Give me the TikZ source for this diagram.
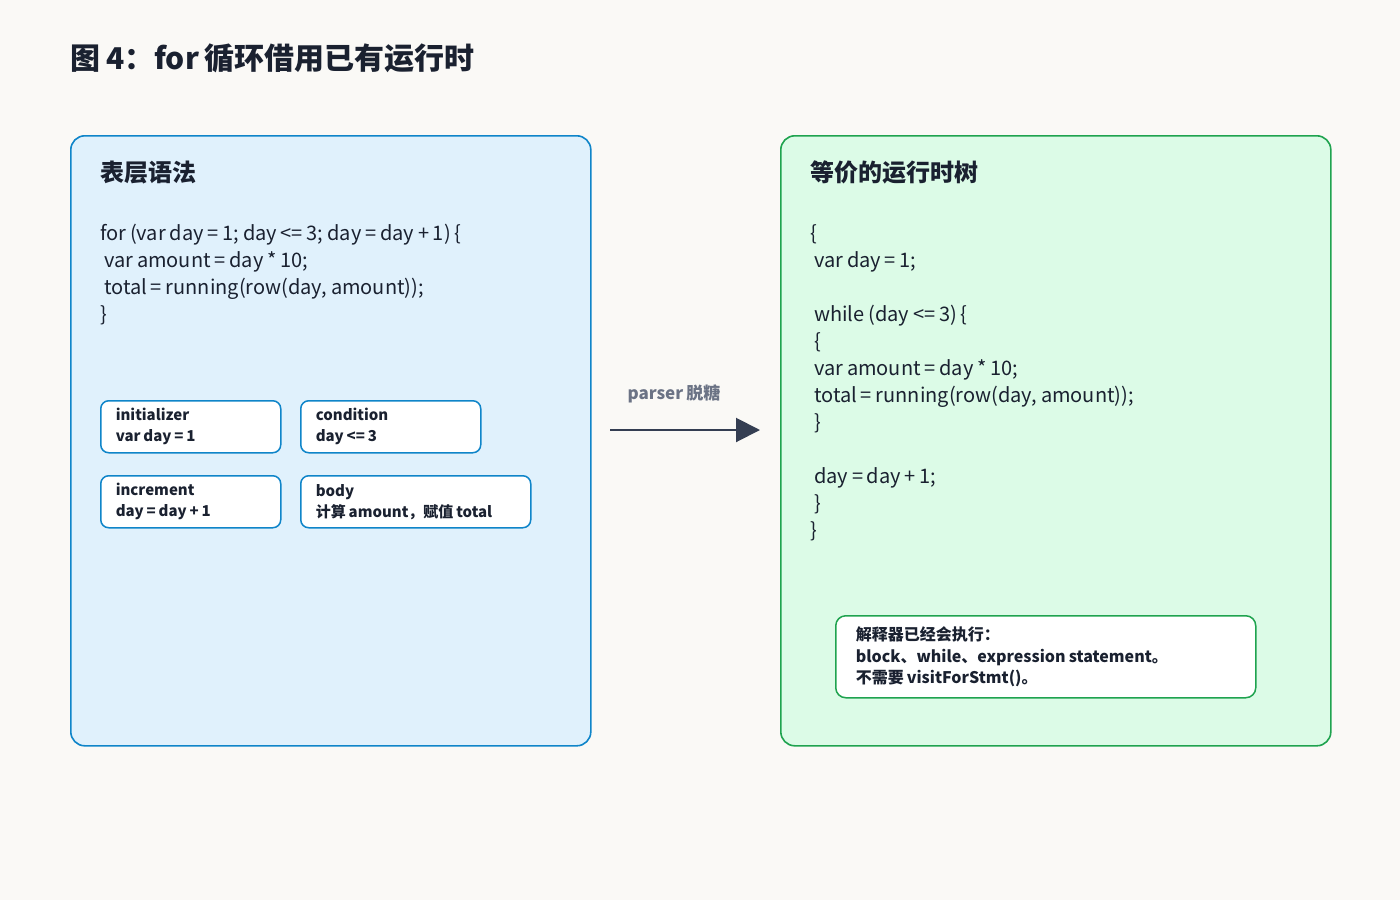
\documentclass[tikz,border=0pt]{standalone}
\usepackage{fontspec}
\setmainfont{Noto Sans CJK SC}[WordSpace=0.85]
\usetikzlibrary{arrows.meta,positioning}
\definecolor{pagebg}{HTML}{FAF9F6}
\definecolor{inkdark}{HTML}{1A2130}
\definecolor{surfaceblue}{HTML}{E0F1FC}
\definecolor{edgeblue}{HTML}{0F85C9}
\definecolor{surfacegreen}{HTML}{DCFBE7}
\definecolor{edgegreen}{HTML}{1FA34F}
\definecolor{arrowslate}{HTML}{343E52}
\definecolor{labelgray}{HTML}{6B7385}
\newcommand{\ind}{\hspace*{4pt}}

\tikzset{
  panel/.style={rounded corners=14pt, line width=1.6pt, anchor=north west, inner sep=0pt},
  naturalspace/.style={execute at begin node={\spaceskip=0pt\xspaceskip=0pt\relax}},
  fieldbox/.style={draw=edgeblue, fill=white, rounded corners=8pt, line width=1.5pt,
    anchor=north west, align=left, text width=#1, inner xsep=15pt, inner ysep=0pt,
    minimum height=52pt, text=inkdark, naturalspace,
    font=\bfseries\fontsize{15}{21}\selectfont},
  codeline/.style={anchor=base west, inner sep=0pt, text=inkdark, font=\fontsize{20}{27}\selectfont},
  heading/.style={anchor=base west, inner sep=0pt, text=inkdark, font=\bfseries\fontsize{24}{28}\selectfont},
}

\begin{document}
\begin{tikzpicture}[x=1pt,y=-1pt]
  \fill[pagebg] (0,0) rectangle (1400,900);
  \node[anchor=base west, inner sep=0pt, text=inkdark, font=\bfseries\fontsize{30}{36}\selectfont]
    (title) at (70,69) {图 4：for 循环借用已有运行时};

  % surface syntax
  \node[panel, draw=edgeblue, fill=surfaceblue, minimum width=520pt, minimum height=610pt] (surface) at (70,135) {};
  \node[heading] (surface-head) at (100,181) {表层语法};
  \foreach \y/\t in {240/{for (var day = 1; day <= 3; day = day + 1) \{},
                     267/{\ind var amount = day * 10;},
                     294/{\ind total = running(row(day, amount));},
                     321/\}}
    \node[codeline] (surface-\y) at (100,\y) {\t};
  \node[fieldbox=150pt] (init) at (100,400) {initializer\\var day = 1};
  \node[fieldbox=150pt] (cond) at (300,400) {condition\\day <= 3};
  \node[fieldbox=150pt] (incr) at (100,475) {increment\\day = day + 1};
  \node[fieldbox=200pt] (body) at (300,475) {body\\计算 amount，赋值 total};

  % desugaring
  \coordinate (sugar-from) at (610,430);
  \coordinate (sugar-to) at (760,430);
  \draw[arrowslate, line width=2pt, -{Triangle[length=24pt,width=24pt]}] (sugar-from) -- (sugar-to);
  \node[text=labelgray, font=\bfseries\fontsize{17}{20}\selectfont] (sugar-label) at (674,394) {parser 脱糖};

  % runtime tree
  \node[panel, draw=edgegreen, fill=surfacegreen, minimum width=550pt, minimum height=610pt] (runtime) at (780,135) {};
  \node[heading] (runtime-head) at (810,181) {等价的运行时树};
  \foreach \y/\t in {240/\{,
                     267/{\ind var day = 1;},
                     321/{\ind while (day <= 3) \{},
                     348/{\ind \{},
                     375/{\ind var amount = day * 10;},
                     402/{\ind total = running(row(day, amount));},
                     429/{\ind \}},
                     483/{\ind day = day + 1;},
                     510/{\ind \}},
                     537/\}}
    \node[codeline] (runtime-\y) at (810,\y) {\t};
  \node[draw=edgegreen, fill=white, rounded corners=10pt, line width=1.5pt, anchor=north west,
    align=left, text width=380pt, inner xsep=20pt, inner ysep=0pt, minimum height=82pt,
    text=inkdark, naturalspace, font=\bfseries\fontsize{16}{21.5}\selectfont] (note) at (835,615)
    {解释器已经会执行：\\block、while、expression statement。\\不需要 visitForStmt()。};
\end{tikzpicture}
\end{document}
